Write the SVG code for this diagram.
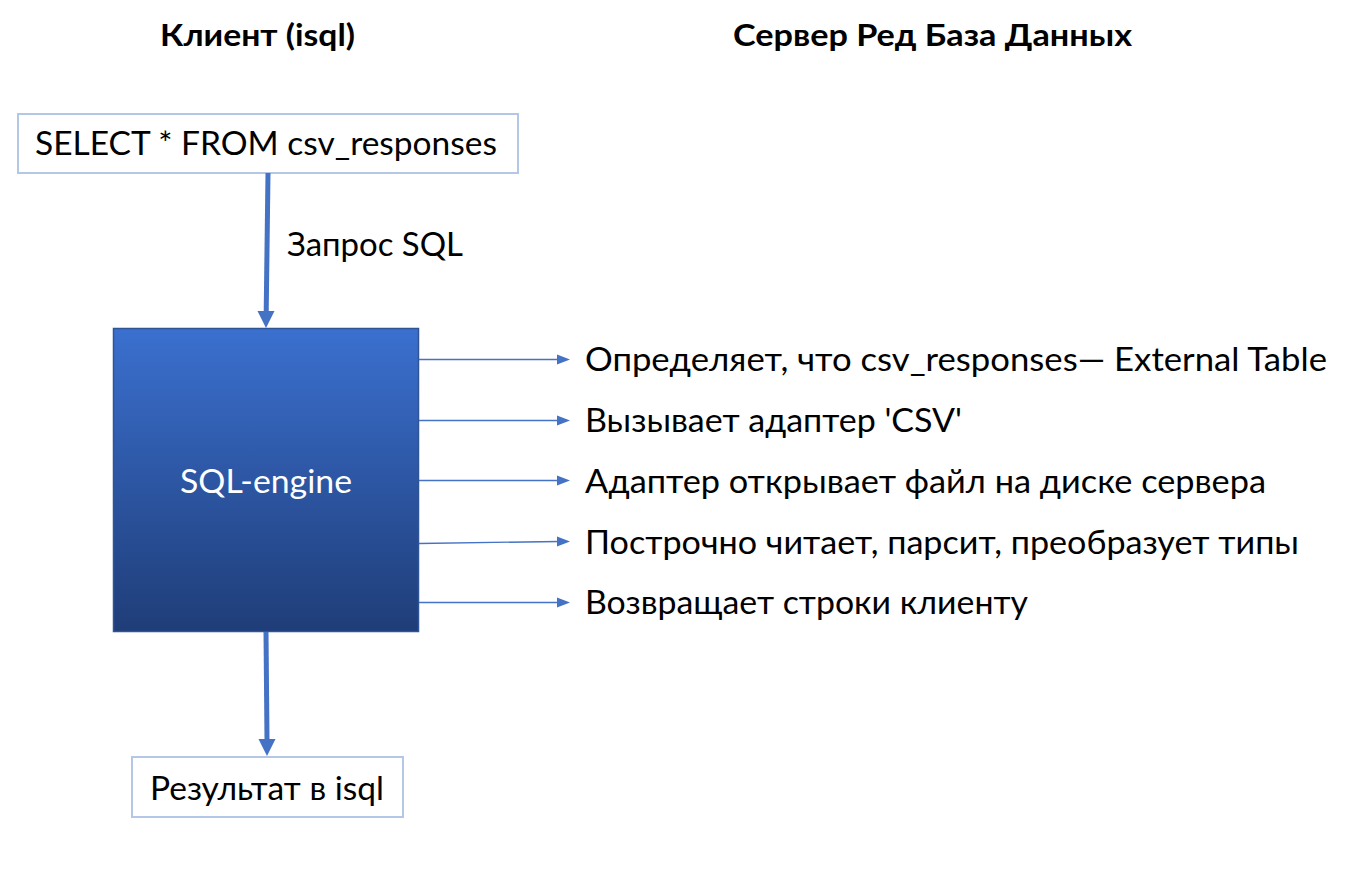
<svg xmlns="http://www.w3.org/2000/svg" width="1350" height="872" viewBox="0 0 1350 872">
  <style>
    .t { font-family: Lato, "Open Sans", "Liberation Sans", sans-serif; font-size: 32px; fill: #000; }
    .title { font-family: Lato, "Open Sans", "Liberation Sans", sans-serif; font-size: 30px; font-weight: bold; fill: #000; }
    .box { fill: #fff; stroke: #B4C7E7; stroke-width: 2; }
    .thick { stroke: #4472C4; stroke-width: 5; fill: none; }
    .thin { stroke: #4472C4; stroke-width: 1.3; fill: none; }
    .head { fill: #4472C4; }
  </style>
  <defs>
    <linearGradient id="eng" x1="0" y1="0" x2="0" y2="1">
      <stop offset="0" stop-color="#3B70CF"/>
      <stop offset="1" stop-color="#1F3D78"/>
    </linearGradient>
  </defs>
  <rect width="1350" height="872" fill="#fff"/>

  <g id="titles">
    <text class="title" x="160" y="46" textLength="195" lengthAdjust="spacingAndGlyphs">Клиент (isql)</text>
    <text class="title" x="733" y="46" textLength="399" lengthAdjust="spacingAndGlyphs">Сервер Ред База Данных</text>
  </g>

  <g id="node-query">
    <rect class="box" x="18" y="114" width="500" height="59"/>
    <text class="t" x="35" y="155" textLength="462" lengthAdjust="spacingAndGlyphs">SELECT * FROM csv_responses</text>
  </g>

  <g id="node-engine">
    <rect x="113.5" y="328.5" width="305" height="303" fill="url(#eng)" stroke="#2F5597" stroke-width="1.5"/>
    <text class="t" x="180" y="493" textLength="172" lengthAdjust="spacingAndGlyphs" fill="#fff" style="fill:#fff">SQL-engine</text>
  </g>

  <g id="node-result">
    <rect class="box" x="132" y="757" width="271" height="60"/>
    <text class="t" x="150" y="800" textLength="234" lengthAdjust="spacingAndGlyphs">Результат в isql</text>
  </g>

  <g id="connectors">
    <line class="thick" x1="268" y1="173" x2="266.2" y2="312"/>
    <polygon class="head" points="257.5,311 274.5,311 266,328"/>
    <line class="thick" x1="266" y1="632" x2="267" y2="740"/>
    <polygon class="head" points="258.5,739 275.5,739 267,756"/>

    <line class="thin" x1="419" y1="359.5" x2="559" y2="359.5"/>
    <polygon class="head" points="557,354.5 570,359.5 557,364.5"/>
    <line class="thin" x1="419" y1="420.5" x2="559" y2="420.5"/>
    <polygon class="head" points="557,415.5 570,420.5 557,425.5"/>
    <line class="thin" x1="419" y1="480.5" x2="559" y2="480.5"/>
    <polygon class="head" points="557,475.5 570,480.5 557,485.5"/>
    <line class="thin" x1="419" y1="543.5" x2="559" y2="541.5"/>
    <polygon class="head" points="557,536.5 570,541.5 557,546.5"/>
    <line class="thin" x1="419" y1="602.5" x2="559" y2="602.5"/>
    <polygon class="head" points="557,597.5 570,602.5 557,607.5"/>
  </g>

  <g id="labels">
    <text class="t" x="287" y="256" textLength="176" lengthAdjust="spacingAndGlyphs">Запрос SQL</text>
    <text class="t" x="585" y="371" textLength="742" lengthAdjust="spacingAndGlyphs">Определяет, что csv_responses— External Table</text>
    <text class="t" x="585" y="432" textLength="377" lengthAdjust="spacingAndGlyphs">Вызывает адаптер 'CSV'</text>
    <text class="t" x="585" y="493" textLength="681" lengthAdjust="spacingAndGlyphs">Адаптер открывает файл на диске сервера</text>
    <text class="t" x="585" y="554" textLength="714" lengthAdjust="spacingAndGlyphs">Построчно читает, парсит, преобразует типы</text>
    <text class="t" x="585" y="614" textLength="443" lengthAdjust="spacingAndGlyphs">Возвращает строки клиенту</text>
  </g>
</svg>
